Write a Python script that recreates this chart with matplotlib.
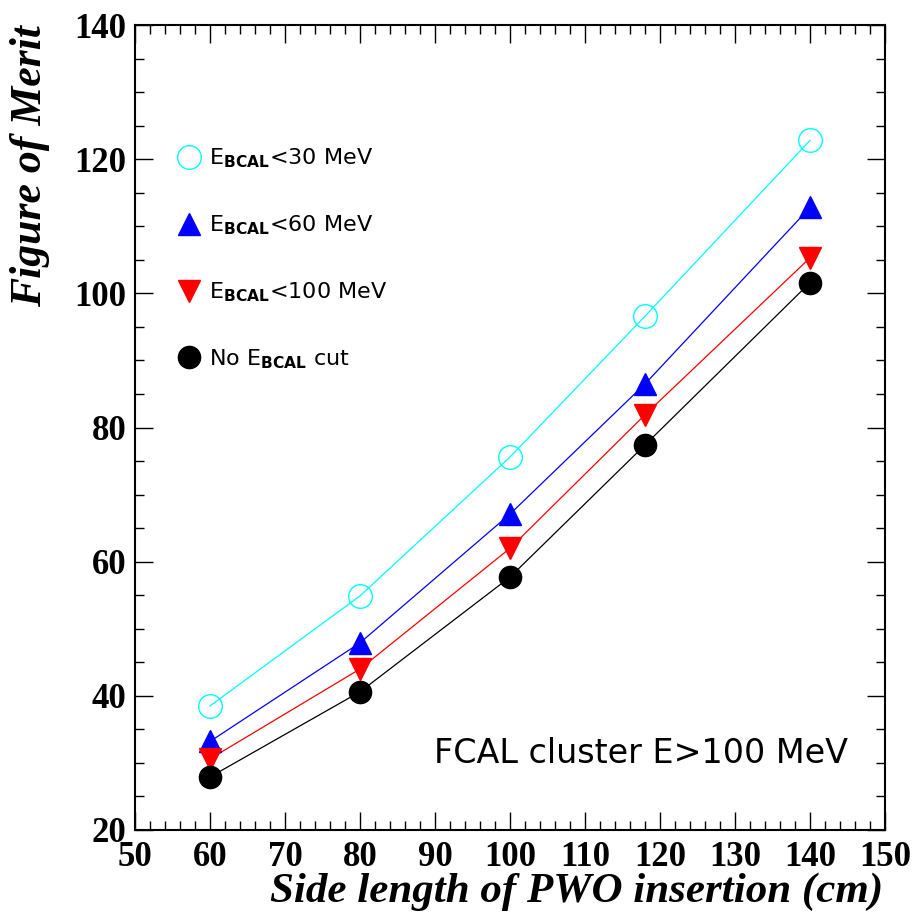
import numpy as np
import matplotlib
matplotlib.use("Agg")
import matplotlib.pyplot as plt
from matplotlib.ticker import MultipleLocator

# side length of the PWO insertion (cm)
side_length = [60, 80, 100, 118, 140]

# figure of merit for each BCAL energy cut
fom_30mev = [38.5, 54.9, 75.6, 96.6, 122.8]
fom_60mev = [33.2, 47.9, 67.1, 86.5, 112.8]
fom_100mev = [30.6, 44.0, 62.0, 81.9, 105.3]
fom_nocut = [27.9, 40.6, 57.7, 77.4, 101.6]

labels = [r"E$_{\mathbf{BCAL}}$<30 MeV", r"E$_{\mathbf{BCAL}}$<60 MeV",
          r"E$_{\mathbf{BCAL}}$<100 MeV", r"No E$_{\mathbf{BCAL}}$ cut"]

plt.rcParams['mathtext.fontset'] = 'custom'
plt.rcParams['mathtext.rm'] = 'DejaVu Sans'
plt.rcParams['mathtext.bf'] = 'DejaVu Sans:bold'

fig = plt.figure(figsize=(9.16, 9.17), dpi=100)
ax = fig.add_axes([0.1474, 0.0949, 0.8188, 0.8778])

series = [
  (fom_30mev, "#00ffff", "o", "none", 17),
  (fom_60mev, "#0000ff", "^", "#0000ff", 16),
  (fom_100mev, "#ff0000", "v", "#ff0000", 16),
  (fom_nocut, "#000000", "o", "#000000", 16),
]

for (vals, col, mk, face, ms), lab in zip(series, labels):
  ax.plot(side_length, vals, color=col, lw=0.9, zorder=2)
  ax.plot(side_length, vals, ls="none", marker=mk, ms=ms, mfc=face,
          mec=col, mew=1.0, label=lab, zorder=3)

ax.set_xlim(50, 150)
ax.set_ylim(20, 140)
ax.xaxis.set_major_locator(MultipleLocator(10))
ax.xaxis.set_minor_locator(MultipleLocator(2))
ax.yaxis.set_major_locator(MultipleLocator(20))
ax.yaxis.set_minor_locator(MultipleLocator(5))
ax.tick_params(which="both", direction="in", top=True, right=True, width=1.0)
ax.tick_params(which="major", length=13)
ax.tick_params(which="minor", length=6.5)
ax.tick_params(axis="x", pad=8)
ax.tick_params(axis="y", pad=6)
for sp in ax.spines.values():
  sp.set_linewidth(1.5)

for t in ax.get_xticklabels() + ax.get_yticklabels():
  t.set_fontfamily("Liberation Serif")
  t.set_fontweight("bold")
  t.set_fontsize(25)

ax.set_xlabel("Side length of PWO insertion (cm)", fontfamily="Liberation Serif",
              fontweight="bold", fontstyle="italic", fontsize=31)
ax.xaxis.set_label_coords(0.997, -0.053, transform=ax.transAxes)
ax.xaxis.label.set_ha("right")
ax.xaxis.label.set_va("top")
ax.set_ylabel("Figure of Merit", fontfamily="Liberation Serif",
              fontweight="bold", fontstyle="italic", fontsize=31.5)
# ylabel uses rotation_mode="anchor": ha/va are in the text's own frame
ax.yaxis.set_label_coords(-0.14, 1.0, transform=ax.transAxes)
ax.yaxis.label.set_ha("right")
ax.yaxis.label.set_va("center")

ax.text(0.951, 0.095, "FCAL cluster E>100 MeV", transform=ax.transAxes,
        ha="right", va="center", fontfamily="DejaVu Sans", fontsize=24)

leg = ax.legend(loc="upper left", bbox_to_anchor=(0.03, 0.874), frameon=False,
                handlelength=1.0, handletextpad=0.4, labelspacing=1.95,
                numpoints=1, prop={"family": "DejaVu Sans", "size": 16})

fig.savefig("out.png", dpi=100)
